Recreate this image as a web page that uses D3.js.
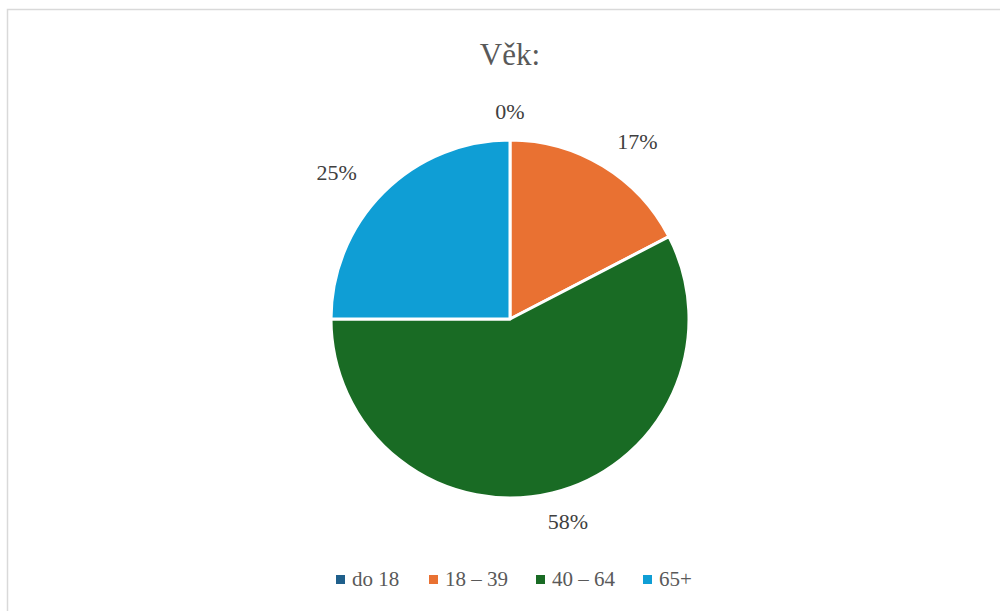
<!DOCTYPE html>
<html>
<head>
<meta charset="utf-8">
<script src="https://cdn.jsdelivr.net/npm/d3@7"></script>
</head>
<body style="margin:0">
<div id="main"></div>
<script>

// data

const categories = ['do 18', '18 – 39', '40 – 64', '65+'];
const counts = [0, 16, 53, 23];
const colors = ['#1f5f8b', '#e97132', '#196b24', '#0f9ed5'];

const w = 1000;
const h = 611;
const cx = 510, cy = 319, r = 179;

const svg = d3.select('#main').append('svg')
    .attr('width', w).attr('height', h)
    .style('font-family', '"Times New Roman", "Liberation Serif", Tinos, serif');

// frame
svg.append('rect')
    .attr('x', 7.5).attr('y', 9.5)
    .attr('width', 1000).attr('height', 700)
    .attr('fill', '#fff')
    .attr('stroke', '#d9d9d9')
    .attr('stroke-width', 1.5);

// title
svg.append('text')
    .attr('x', cx).attr('y', 65)
    .attr('text-anchor', 'middle')
    .attr('fill', '#595959')
    .attr('font-size', 31)
    .text('Věk:');

const total = d3.sum(counts);
const pie = d3.pie().sort(null).value(d => d)(counts);
const arc = d3.arc().innerRadius(0).outerRadius(r);

const g = svg.append('g').attr('transform', `translate(${cx},${cy})`);

g.selectAll('path')
    .data(pie)
    .enter()
    .append('path')
    .attr('d', arc)
    .attr('fill', (d, i) => colors[i])
    .attr('stroke', '#fff')
    .attr('stroke-width', 3)
    .attr('stroke-linejoin', 'round');

// labels, outside end
g.selectAll('text.lbl')
    .data(pie)
    .enter()
    .append('text')
    .attr('class', 'lbl')
    .attr('text-anchor', 'middle')
    .attr('fill', '#404040')
    .attr('font-size', 22)
    .each(function (d) {
        const a = (d.startAngle + d.endAngle) / 2;
        d3.select(this)
            .attr('x', Math.sin(a) * (r + 66))
            .attr('y', -Math.cos(a) * (r + 29) + 8)
            .text(Math.round(d.value / total * 100) + '%');
    });

// legend
const legendX = [336, 429, 536, 643];
const lg = svg.append('g').attr('transform', 'translate(0,586)');
const item = lg.selectAll('g')
    .data(categories)
    .enter()
    .append('g')
    .attr('transform', (d, i) => `translate(${legendX[i]},0)`);

item.append('rect')
    .attr('x', 0).attr('y', -11)
    .attr('width', 9).attr('height', 9)
    .attr('fill', (d, i) => colors[i]);

item.append('text')
    .attr('x', 16).attr('y', 0)
    .attr('fill', '#595959')
    .attr('font-size', 21)
    .text(d => d);

</script>
</body>
</html>
